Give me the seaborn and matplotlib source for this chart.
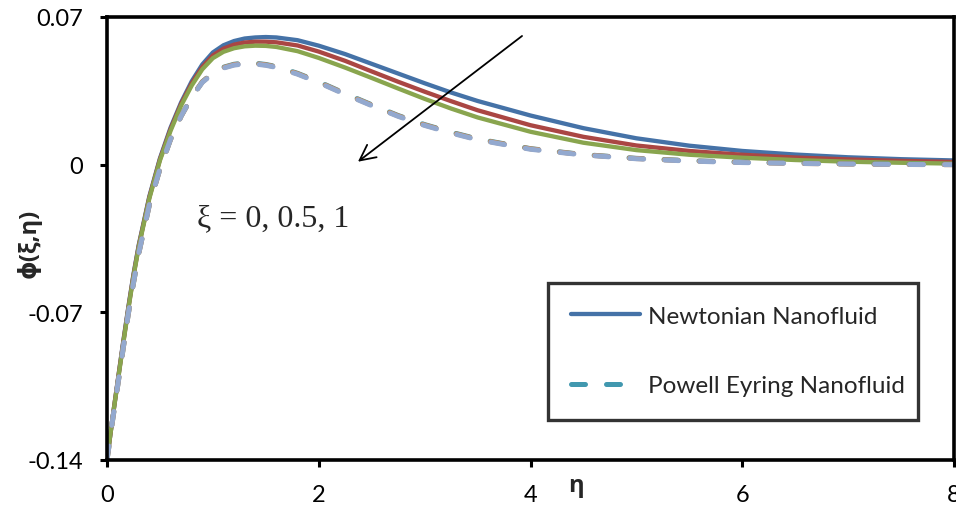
import matplotlib
matplotlib.use("Agg")
import matplotlib.pyplot as plt
from matplotlib.lines import Line2D
import seaborn as sns

eta = [0, 0.05, 0.1, 0.15, 0.2, 0.25, 0.3, 0.4, 0.5, 0.6, 0.7, 0.8, 0.9, 1.0, 1.1, 1.2, 1.3, 1.4, 1.5, 1.6,
       1.8, 2.0, 2.25, 2.5, 2.75, 3.0, 3.25, 3.5, 4.0, 4.5, 5.0, 5.5, 6.0, 6.5, 7.0, 7.5, 8.0]

newt_xi0 = [-0.140, -0.121, -0.103, -0.085, -0.068, -0.052, -0.038, -0.015, 0.003, 0.0175, 0.0295, 0.0395,
            0.0475, 0.0532, 0.0566, 0.0586, 0.0598, 0.0603, 0.0605, 0.0603, 0.0590, 0.0564, 0.0524, 0.0478,
            0.0432, 0.0386, 0.0342, 0.0302, 0.0233, 0.0173, 0.0125, 0.0090, 0.0065, 0.0048, 0.0035, 0.0026, 0.0020]
newt_xi05 = [-0.140, -0.121, -0.103, -0.0855, -0.0685, -0.0525, -0.0385, -0.0155, 0.0025, 0.0168, 0.0288, 0.0385,
             0.0463, 0.0518, 0.0550, 0.0569, 0.0579, 0.0583, 0.0583, 0.0580, 0.0565, 0.0536, 0.0492, 0.0442,
             0.0393, 0.0346, 0.0301, 0.0258, 0.0187, 0.0132, 0.0091, 0.0065, 0.0047, 0.0034, 0.0025, 0.0018, 0.0013]
newt_xi1 = [-0.140, -0.121, -0.1035, -0.086, -0.069, -0.053, -0.039, -0.016, 0.002, 0.016, 0.028, 0.0375,
            0.0452, 0.0505, 0.0535, 0.0552, 0.0561, 0.0564, 0.0563, 0.0558, 0.0538, 0.0506, 0.0460, 0.0411,
            0.0361, 0.0312, 0.0266, 0.0224, 0.0156, 0.0104, 0.0069, 0.0047, 0.0033, 0.0022, 0.0014, 0.0009, 0.0005]

pe_xi0 = [-0.140, -0.122, -0.105, -0.088, -0.071, -0.056, -0.042, -0.019, -0.002, 0.012, 0.023, 0.032,
          0.0393, 0.0435, 0.0462, 0.0476, 0.0482, 0.0481, 0.0475, 0.0465, 0.0433, 0.0393, 0.0337, 0.0284,
          0.0233, 0.0190, 0.0154, 0.0122, 0.0076, 0.0048, 0.0030, 0.0019, 0.0012, 0.0007, 0.0004, 0.0002, 0.0001]
pe_xi05 = [-0.140, -0.122, -0.105, -0.088, -0.071, -0.056, -0.042, -0.019, -0.002, 0.012, 0.023, 0.032,
           0.0392, 0.0434, 0.0460, 0.0474, 0.0480, 0.0479, 0.0473, 0.0463, 0.0431, 0.0391, 0.0335, 0.0282,
           0.0231, 0.0188, 0.0152, 0.0120, 0.0075, 0.0047, 0.0029, 0.0018, 0.0011, 0.0006, 0.0003, 0.0001, 0.0000]
pe_xi1 = [-0.140, -0.122, -0.105, -0.088, -0.071, -0.056, -0.042, -0.019, -0.002, 0.012, 0.023, 0.032,
          0.0390, 0.0432, 0.0458, 0.0472, 0.0478, 0.0477, 0.0471, 0.0461, 0.0429, 0.0389, 0.0333, 0.0280,
          0.0229, 0.0186, 0.0150, 0.0118, 0.0073, 0.0046, 0.0028, 0.0017, 0.0010, 0.0006, 0.0003, 0.0001, 0.0000]

x_ticks = [0, 2, 4, 6, 8]
y_ticks = [-0.14, -0.07, 0, 0.07]
y_tick_labels = ["-0.14", "-0.07", "0", "0.07"]
legend_labels = ["Newtonian Nanofluid", "Powell Eyring Nanofluid"]

sns.set_style("white")
plt.rcParams["font.family"] = ["Lato", "Noto Sans", "DejaVu Sans"]

fig = plt.figure(figsize=(9.56, 5.10), dpi=100)
ax = fig.add_axes([107 / 956, 1 - 461 / 510, 847 / 956, 443 / 510])

solid = [(newt_xi0, "#4572A7"), (newt_xi05, "#AA4643"), (newt_xi1, "#89A54E")]
for vals, col in solid:
    sns.lineplot(x=eta, y=vals, color=col, lw=3.1, ax=ax)
    ax.get_lines()[-1].set_solid_capstyle("round")
    ax.get_lines()[-1].set_solid_joinstyle("round")

dashed = [(pe_xi0, "#4198AF"), (pe_xi05, "#DB843D"), (pe_xi1, "#93A9CF")]
for vals, col in dashed:
    sns.lineplot(x=eta, y=vals, color=col, lw=3.6, ax=ax)
    line = ax.get_lines()[-1]
    line.set_dashes((2.8, 4.2))
    line.set_dash_capstyle("round")

ax.set_xlim(0, 8)
ax.set_ylim(-0.14, 0.07)
ax.set_xticks(x_ticks)
ax.set_xticklabels([str(t) for t in x_ticks])
ax.set_yticks(y_ticks)
ax.set_yticklabels(y_tick_labels)
ax.set_xlabel("")
ax.set_ylabel("")

for s in ax.spines.values():
    s.set_visible(True)
    s.set_color("black")
    s.set_linewidth(2.6)

ax.tick_params(axis="both", which="major", direction="out", length=5, width=2.2,
               color="black", labelsize=17, labelcolor="black", left=True, bottom=True)
ax.tick_params(axis="y", pad=12)
ax.tick_params(axis="x", pad=12)
for lab in ax.get_xticklabels() + ax.get_yticklabels():
    lab.set_clip_on(False)

fig.text(29 / 956, 1 - 243 / 510, "\u03d5(\u03be,\u03b7)", rotation=90, ha="center", va="center",
         fontsize=17, fontweight="bold", family=["Open Sans", "DejaVu Sans"])
fig.text(576 / 956, 1 - 492 / 510, "\u03b7", ha="center", va="baseline",
         fontsize=17, fontweight="bold", family=["Open Sans", "DejaVu Sans"])

ax.annotate("", xy=(2.37, 0.0014), xytext=(3.92, 0.061),
            arrowprops=dict(arrowstyle="->", lw=1.3, color="black", mutation_scale=28,
                            shrinkA=0, shrinkB=0))
ax.text(1.57, -0.0286, "\u03be = 0, 0.5, 1", ha="center", va="baseline", fontsize=23,
        family=["Liberation Serif", "DejaVu Serif"])

handles = [Line2D([0], [0], color="#4572A7", lw=3.1, solid_capstyle="round"),
           Line2D([0], [0], color="#4198AF", lw=3.6, dashes=(2.8, 4.2), dash_capstyle="round")]
leg = ax.legend(handles, legend_labels, loc="upper left",
                bbox_to_anchor=(0.5207, 0.1016, 0.4368, 0.2985), mode="expand",
                borderaxespad=0, fontsize=17.5, frameon=True, fancybox=False,
                handlelength=2.85, handletextpad=0.33, labelspacing=2.0, borderpad=0.95)
leg.get_frame().set_edgecolor("black")
leg.get_frame().set_linewidth(2.4)

fig.savefig("out.png", dpi=100)
